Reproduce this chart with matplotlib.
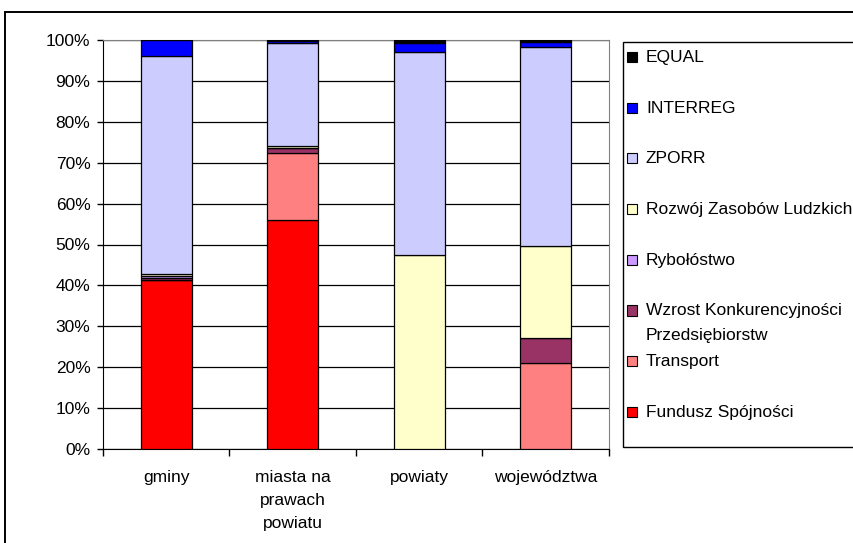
import matplotlib
matplotlib.use("Agg")
import matplotlib.pyplot as plt
from matplotlib.patches import Rectangle
from matplotlib.ticker import PercentFormatter, FixedLocator, NullFormatter
import numpy as np

plt.rcParams['font.family'] = ['Liberation Sans', 'DejaVu Sans']

categories = ["gminy", "miasta na\nprawach\npowiatu", "powiaty", "województwa"]

# shares in percent, bottom to top
fundusz = [41.4, 56.0, 0.0, 0.0]
transport = [0.0, 16.4, 0.0, 21.1]
wzrost = [0.5, 1.2, 0.0, 6.0]
rybolowstwo = [0.4, 0.0, 0.0, 0.0]
rozwoj = [0.6, 0.5, 47.4, 22.5]
zporr = [53.2, 25.2, 49.6, 48.8]
interreg = [3.8, 0.4, 2.3, 1.0]
equal = [0.1, 0.3, 0.7, 0.6]

series = [
    ("Fundusz Spójności", fundusz, "#FF0000"),
    ("Transport", transport, "#FF8080"),
    ("Wzrost Konkurencyjności\nPrzedsiębiorstw", wzrost, "#993366"),
    ("Rybołóstwo", rybolowstwo, "#CC99FF"),
    ("Rozwój Zasobów Ludzkich", rozwoj, "#FFFFCC"),
    ("ZPORR", zporr, "#CCCCFF"),
    ("INTERREG", interreg, "#0000FF"),
    ("EQUAL", equal, "#000000"),
]

FS = 12.5
W, H = 854, 543
fig = plt.figure(figsize=(W / 100, H / 100), dpi=100)

def fx(px):
    return px / W

def fy(py):
    return 1 - py / H

# chart frame (runs off the right and bottom edge)
fig.patches.append(Rectangle((fx(5), fy(600)), 1.2, fy(12) - fy(600),
                             transform=fig.transFigure, fill=False,
                             edgecolor="black", lw=1.4))

ax = fig.add_axes([fx(103), fy(449), fx(609) - fx(103), fy(40) - fy(449)])

x = np.arange(len(categories))
bottom = np.zeros(len(categories))
for name, vals, color in series:
    vals = np.array(vals)
    ax.bar(x, vals, 0.4, bottom=bottom, color=color, edgecolor="black",
           linewidth=0.9, label=name, zorder=3)
    bottom += vals

ax.set_xlim(-0.5, len(categories) - 0.5)
ax.set_ylim(0, 100)
ax.set_yticks(np.arange(0, 101, 10))
ax.yaxis.set_major_formatter(PercentFormatter(decimals=0))
ax.yaxis.grid(True, color="black", lw=0.9)
ax.set_axisbelow(True)

# category labels between the boundary ticks
ax.xaxis.set_major_locator(FixedLocator(np.arange(-0.5, len(categories), 1)))
ax.xaxis.set_major_formatter(NullFormatter())
ax.xaxis.set_minor_locator(FixedLocator(x))
ax.set_xticklabels(categories, minor=True)
ax.tick_params(axis="x", which="minor", length=0, pad=15, labelsize=FS)
ax.tick_params(axis="x", which="major", length=5, width=1, direction="out")
ax.tick_params(axis="y", length=4.5, width=1, pad=4.5, labelsize=FS)
for lbl in ax.get_xticklabels(minor=True):
    lbl.set_linespacing(1.66)
    lbl.set_verticalalignment("top")

for side in ("top", "right"):
    ax.spines[side].set_color("#808080")
for side in ("left", "bottom"):
    ax.spines[side].set_color("black")

# legend box, drawn by hand so the frame can run past the edge
fig.patches.append(Rectangle((fx(623), fy(447)), 1.0, fy(42) - fy(447),
                             transform=fig.transFigure, fill=False,
                             edgecolor="black", lw=1.0))
for i, (name, vals, color) in enumerate(reversed(series)):
    yc = 57 + i * 50.7
    fig.patches.append(Rectangle((fx(627), fy(yc + 5)), fx(10), fy(yc - 5) - fy(yc + 5),
                                 transform=fig.transFigure, facecolor=color,
                                 edgecolor="black", lw=0.8))
    fig.text(fx(646), fy(yc - 7), name, ha="left", va="top", fontsize=FS,
             linespacing=1.83)

fig.savefig("out.png", dpi=100)
